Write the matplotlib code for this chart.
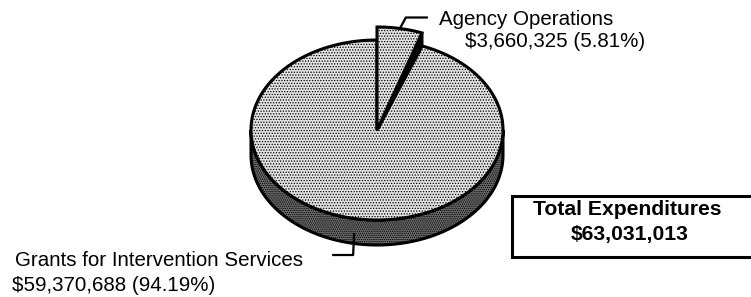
import numpy as np
import matplotlib
matplotlib.use("Agg")
import matplotlib.pyplot as plt
from matplotlib.patches import Polygon, Rectangle

# ---- data ----
categories = ["Agency Operations", "Grants for Intervention Services"]
amounts = [3660325, 59370688]
percents = ["5.81%", "94.19%"]
total_label = "Total Expenditures"
total_value = "$63,031,013"

# ---- layout ----
W, H = 751, 297
cx, cy = 377, 130          # centre of top face (pixels)
a, b = 126, 90             # semi-axes
depth = 25                 # rim thickness
lift = 13                  # raise of the exploded slice at its outer edge
LW = 2.2

plt.rcParams['font.family'] = ['Liberation Sans', 'DejaVu Sans']
plt.rcParams['hatch.linewidth'] = 0.6

fig = plt.figure(figsize=(W / 100, H / 100), dpi=100)
ax = fig.add_axes([0, 0, 1, 1])
ax.set_xlim(0, W)
ax.set_ylim(H, 0)
ax.axis('off')


def pt(t_deg, dy=0.0):
    t = np.radians(t_deg)
    return np.array([cx + a * np.cos(t), cy - b * np.sin(t) + dy])


def arc(t0, t1, dy=0.0, n=200):
    ts = np.linspace(t0, t1, n)
    return np.array([pt(t, dy) for t in ts])


total = sum(amounts)
fracs = [v / total for v in amounts]
# slice 0 (Agency) starts at 12 o'clock and runs clockwise
ag_t1 = 90.0
ag_t0 = 90.0 - 360.0 * fracs[0]
gr_t0 = 90.0
gr_t1 = ag_t0 + 360.0

# ---- rim (visible lower half) ----
rim_top = arc(180, 360)
rim_bot = arc(360, 180, dy=depth)
rim = Polygon(np.vstack([rim_top, rim_bot]), closed=True, facecolor='#6a6a6a',
              edgecolor='black', lw=LW, hatch='........', zorder=1)
ax.add_patch(rim)

# ---- main top face (Grants) ----
main_pts = np.vstack([[cx, cy], arc(gr_t0, gr_t1)])
ax.add_patch(Polygon(main_pts, closed=True, facecolor='#e2e2e2', edgecolor='black',
                     lw=LW, hatch='......', zorder=2))

# ---- raised slice (Agency) ----
apex = np.array([cx, cy])
ag_arc = arc(ag_t0, ag_t1, dy=-lift)
side = Polygon([apex, pt(ag_t0, -lift), pt(ag_t0)], closed=True,
               facecolor='black', edgecolor='black', lw=LW, zorder=3)
ax.add_patch(side)
ax.add_patch(Polygon(np.vstack([apex, ag_arc]), closed=True, facecolor='#e2e2e2',
                     edgecolor='black', lw=LW, hatch='......', zorder=4))

# ---- leader lines ----
mid_ag = (ag_t0 + ag_t1) / 2
p0 = pt(mid_ag, -lift)
ax.plot([p0[0], p0[0] + 6, p0[0] + 28], [p0[1], p0[1] - 11, p0[1] - 11],
        color='black', lw=1.6, zorder=5, solid_capstyle='butt')

mid_gr = (gr_t0 + gr_t1) / 2
q0 = pt(mid_gr, depth / 2 + 2)
ax.plot([q0[0], q0[0] - 1, q0[0] - 22], [q0[1], q0[1] + 22, q0[1] + 22],
        color='black', lw=1.6, zorder=5, solid_capstyle='butt')

# ---- labels ----
fs = 14.8
ax.text(439, 25, categories[0], fontsize=fs, va='baseline', ha='left')
ax.text(465, 47, f"${amounts[0]:,} ({percents[0]})", fontsize=fs,
        va='baseline', ha='left')
ax.text(15, 266, categories[1], fontsize=fs, va='baseline', ha='left')
ax.text(12, 291, f"${amounts[1]:,} ({percents[1]})", fontsize=fs,
        va='baseline', ha='left')

# ---- total box ----
ax.add_patch(Rectangle((512, 196), 260, 61, facecolor='white', edgecolor='black',
                       lw=2.2, zorder=5, clip_on=True))
ax.text(627, 215, total_label, fontsize=15.2, fontweight='bold',
        va='baseline', ha='center', zorder=6)
ax.text(630, 240, total_value, fontsize=15.2, fontweight='bold',
        va='baseline', ha='center', zorder=6)

fig.savefig('out.png', dpi=100)
